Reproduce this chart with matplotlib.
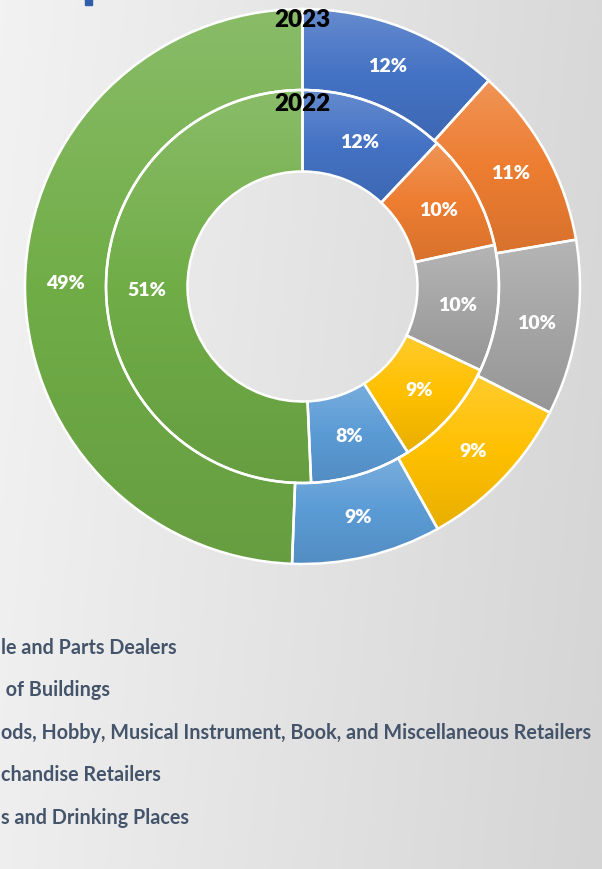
import numpy as np
import matplotlib
matplotlib.use("Agg")
import matplotlib.pyplot as plt
from matplotlib.colors import to_rgb
from matplotlib.patches import Rectangle

# slice order, clockwise from 12 o'clock
share_2023 = [11.7, 10.6, 10.2, 9.4, 8.7, 49.4]
share_2022 = [12.0, 9.6, 10.4, 9.0, 8.3, 50.7]
ring_labels = ["2023", "2022"]

# legend entries as far as they show in the cropped picture
legend_labels = [
    "le and Parts Dealers",
    " of Buildings",
    "ods, Hobby, Musical Instrument, Book, and Miscellaneous Retailers",
    "chandise Retailers",
    "s and Drinking Places",
]

colors = ["#4472C4", "#ED7D31", "#A5A5A5", "#FFC000", "#5B9BD5", "#70AD47"]

plt.rcParams["font.family"] = ["Lato", "DejaVu Sans"]

W, H = 602, 870
fig = plt.figure(figsize=(W / 100, H / 100), dpi=100)

# background gradient
bg = fig.add_axes([0, 0, 1, 1], zorder=-5)
gx = np.linspace(0, 1, 300)
gy = np.linspace(0, 1, 300)
GX, GY = np.meshgrid(gx, gy)
lvl = 0.95 - 0.10 * GX - 0.015 * GY
bg.imshow(np.dstack([lvl, lvl, lvl]), extent=(0, 1, 0, 1), aspect="auto")
bg.axis("off")

# pie axes: center (302.5, 287.5) px from top-left, outer radius 277.5 px
cx, cy, R = 302.5, 287.5, 277.5
ax = fig.add_axes([(cx - R) / W, (H - cy - R) / H, 2 * R / W, 2 * R / H])
ax.axis("off")

r_mid = 196.5 / R
r_hole = 115 / R
w_out = 1 - r_mid
w_in = r_mid - r_hole

txt_kw = dict(color="white", fontsize=14, fontweight="heavy")
outer, _, outer_t = ax.pie(share_2023, radius=1, startangle=90, counterclock=False,
                           colors=colors, autopct="%1.0f%%", pctdistance=1 - w_out / 2,
                           wedgeprops=dict(width=w_out, edgecolor="white", linewidth=1.8),
                           textprops=txt_kw)
inner, _, inner_t = ax.pie(share_2022, radius=r_mid, startangle=90, counterclock=False,
                           colors=colors, autopct="%1.0f%%",
                           pctdistance=(r_mid - w_in / 2) / r_mid,
                           wedgeprops=dict(width=w_in, edgecolor="white", linewidth=1.8),
                           textprops=txt_kw)


def shade(c, f):
    c = np.array(to_rgb(c))
    if f > 0:
        return c + (1 - c) * f
    return c * (1 + f)


# gradient fill per wedge, lighter on top
for wedges in (outer, inner):
    for i, w in enumerate(wedges):
        ext = w.get_path().get_extents()
        top, base, bot = shade(colors[i], 0.18), shade(colors[i], 0), shade(colors[i], -0.09)
        t = np.linspace(0, 1, 200)[:, None]
        grad = np.where(t < 0.5, top + (base - top) * (t / 0.5),
                        base + (bot - base) * ((t - 0.5) / 0.5))
        img = ax.imshow(grad[:, None, :], extent=(ext.x0, ext.x1, ext.y0, ext.y1),
                        aspect="auto", origin="upper", zorder=1)
        img.set_clip_path(w)
        w.set_facecolor("none")
        w.set_zorder(2)

for t in outer_t + inner_t:
    t.set_zorder(5)

ax.set_xlim(-1, 1)
ax.set_ylim(-1, 1)

# ring titles
ax.text(0, 1 - 10 / R, ring_labels[0], ha="center", va="center", fontsize=17.5,
        fontweight="heavy", color="black", zorder=6)
ax.text(0, r_mid - 13 / R, ring_labels[1], ha="center", va="center", fontsize=17.5,
        fontweight="heavy", color="black", zorder=6)

# legend rows (left part is outside the crop)
leg_y = [648, 690, 733, 775, 818]
for name, yy in zip(legend_labels, leg_y):
    fig.text(1 / W, 1 - yy / H, name, fontsize=14.2, fontweight="bold",
             color="#44546A", ha="left", va="center")

# fragment of the title above the crop
fig.patches.append(Rectangle((85 / W, 1 - 6 / H), 7 / W, 6 / H,
                             transform=fig.transFigure, color="#2E5FA8"))

fig.savefig("out.png", dpi=100)
